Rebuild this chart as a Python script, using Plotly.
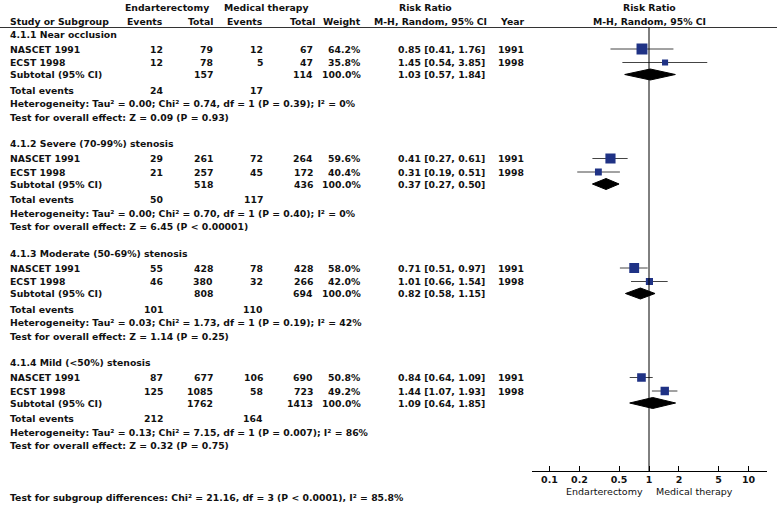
import plotly.graph_objects as go

W, H = 777, 506

# ---------------- data ----------------
subgroups = ["4.1.1 Near occlusion", "4.1.2 Severe (70-99%) stenosis",
             "4.1.3 Moderate (50-69%) stenosis", "4.1.4 Mild (<50%) stenosis"]
studies = ["NASCET 1991", "ECST 1998"]
years = [1991, 1998]
e_events = [[12, 12], [29, 21], [55, 46], [87, 125]]
e_total = [[79, 78], [261, 257], [428, 380], [677, 1085]]
m_events = [[12, 5], [72, 45], [78, 32], [106, 58]]
m_total = [[67, 47], [264, 172], [428, 266], [690, 723]]
weights = [[64.2, 35.8], [59.6, 40.4], [58.0, 42.0], [50.8, 49.2]]
rr = [[0.85, 1.45], [0.41, 0.31], [0.71, 1.01], [0.84, 1.44]]
rr_lo = [[0.41, 0.54], [0.27, 0.19], [0.51, 0.66], [0.64, 1.07]]
rr_hi = [[1.76, 3.85], [0.61, 0.51], [0.97, 1.54], [1.09, 1.93]]
sub_rr = [1.03, 0.37, 0.82, 1.09]
sub_lo = [0.57, 0.27, 0.58, 0.64]
sub_hi = [1.84, 0.50, 1.15, 1.85]
sub_e_total = [157, 518, 808, 1762]
sub_m_total = [114, 436, 694, 1413]
tot_e = [24, 50, 101, 212]
tot_m = [17, 117, 110, 164]
tau2 = ["0.00", "0.00", "0.03", "0.13"]
chi2 = ["0.74", "0.70", "1.73", "7.15"]
het_p = ["P = 0.39", "P = 0.40", "P = 0.19", "P = 0.007"]
i2 = ["0%", "0%", "42%", "86%"]
z_val = ["0.09", "6.45", "1.14", "0.32"]
z_p = ["P = 0.93", "P < 0.00001", "P = 0.25", "P = 0.75"]
tick_vals = [0.1, 0.2, 0.5, 1, 2, 5, 10]
tick_text = ["0.1", "0.2", "0.5", "1", "2", "5", "10"]
subgroup_diff = "Test for subgroup differences: Chi² = 21.16, df = 3 (P < 0.0001), I² = 85.8%"

# ---------------- layout helpers ----------------
FONT = "DejaVu Sans"
FS = 9.3
TXT = "#111111"
SQ = "#1f3285"
AXIS_Y = 471          # pixel row of the forest axis line
HEAD_LINE = 27.5
group_top = [34, 143.5, 253, 362.5]
off = dict(head=0, s1=15, s2=28.5, sub=40.5, tot=56, het=69.5, test=83)

anns = []

def px(x):
    return x / W

def text(x, y, s, anchor="left", bold=True, size=FS):
    if bold:
        s = "<b>" + s + "</b>"
    if y <= AXIS_Y:
        anns.append(dict(x=px(x), xref="paper", y=y, yref="y", text=s, showarrow=False,
                         xanchor=anchor, yanchor="middle",
                         font=dict(family=FONT, size=size, color=TXT)))
    else:
        anns.append(dict(x=px(x), xref="paper", y=(H - y) / H, yref="paper", text=s,
                         showarrow=False, xanchor=anchor, yanchor="middle",
                         font=dict(family=FONT, size=size, color=TXT)))

# headers
text(167, 7, "Endarterectomy", "center")
text(266, 7, "Medical therapy", "center")
text(425, 7, "Risk Ratio", "center")
text(649, 7, "Risk Ratio", "center")
text(8, 21, "Study or Subgroup", "left")
text(165, 21, "Events", "right")
text(215, 21, "Total", "right")
text(265, 21, "Events", "right")
text(317, 21, "Total", "right")
text(363, 21, "Weight", "right")
text(430, 21, "M-H, Random, 95% CI", "center")
text(498, 21, "Year", "left")
text(649, 21, "M-H, Random, 95% CI", "center")

fig = go.Figure()

for g in range(4):
    t = group_top[g]
    text(8, t + off["head"], subgroups[g], "left")
    for k in range(2):
        y = t + off["s1" if k == 0 else "s2"]
        text(8, y, studies[k], "left")
        text(165, y, str(e_events[g][k]), "right")
        text(215, y, str(e_total[g][k]), "right")
        text(265, y, str(m_events[g][k]), "right")
        text(315, y, str(m_total[g][k]), "right")
        text(363, y, f"{weights[g][k]:.1f}%", "right")
        text(487, y, f"{rr[g][k]:.2f} [{rr_lo[g][k]:.2f}, {rr_hi[g][k]:.2f}]", "right")
        text(496, y, str(years[k]), "left")
        # CI line
        fig.add_trace(go.Scatter(x=[rr_lo[g][k], rr_hi[g][k]], y=[y, y], mode="lines",
                                 line=dict(color="#444444", width=1), hoverinfo="skip",
                                 showlegend=False))
        fig.add_trace(go.Scatter(x=[rr[g][k]], y=[y], mode="markers",
                                 marker=dict(symbol="square", size=weights[g][k] * 0.17,
                                             color=SQ, line=dict(width=0)),
                                 showlegend=False))
    ys = t + off["sub"]
    text(8, ys, "Subtotal (95% CI)", "left")
    text(215, ys, str(sub_e_total[g]), "right")
    text(315, ys, str(sub_m_total[g]), "right")
    text(363, ys, "100.0%", "right")
    text(487, ys, f"{sub_rr[g]:.2f} [{sub_lo[g]:.2f}, {sub_hi[g]:.2f}]", "right")
    # diamond
    hh = 5.5
    fig.add_trace(go.Scatter(x=[sub_lo[g], sub_rr[g], sub_hi[g], sub_rr[g], sub_lo[g]],
                             y=[ys, ys - hh, ys, ys + hh, ys], mode="lines",
                             fill="toself", fillcolor="black",
                             line=dict(color="black", width=1), showlegend=False))
    yt = t + off["tot"]
    text(8, yt, "Total events", "left")
    text(165, yt, str(tot_e[g]), "right")
    text(265, yt, str(tot_m[g]), "right")
    text(8, t + off["het"],
         f"Heterogeneity: Tau² = {tau2[g]}; Chi² = {chi2[g]}, df = 1 ({het_p[g]}); I² = {i2[g]}",
         "left")
    text(8, t + off["test"], f"Test for overall effect: Z = {z_val[g]} ({z_p[g]})", "left")

text(8, 497, subgroup_diff, "left")
text(645, 491, "Endarterectomy", "right", bold=False, size=9.5)
text(654, 491, "Medical therapy", "left", bold=False, size=9.5)

x_lo, x_hi = 531.5, 767
x_one = 649
dec = 99.5
fig.update_layout(
    width=W, height=H, margin=dict(l=0, r=0, t=0, b=0),
    paper_bgcolor="white", plot_bgcolor="white",
    showlegend=False, annotations=anns, hovermode=False,
    xaxis=dict(type="log", domain=[x_lo / W, x_hi / W],
               range=[(x_lo - x_one) / dec, (x_hi - x_one) / dec],
               showgrid=False, zeroline=False, showline=True, linecolor="black", linewidth=1,
               ticks="inside", ticklen=5, tickcolor="black", tickvals=tick_vals,
               ticktext=["<b>" + s + "</b>" for s in tick_text],
               tickfont=dict(family=FONT, size=9.5, color=TXT), fixedrange=True),
    yaxis=dict(domain=[(H - AXIS_Y) / H, 1], range=[AXIS_Y, 0], visible=False,
               showgrid=False, zeroline=False, fixedrange=True),
    shapes=[
        dict(type="line", xref="paper", x0=0, x1=1, yref="y", y0=HEAD_LINE, y1=HEAD_LINE,
             line=dict(color="#333333", width=1)),
        dict(type="line", xref="x", x0=1, x1=1, yref="y", y0=HEAD_LINE, y1=AXIS_Y,
             line=dict(color="black", width=1)),
    ],
)

fig.write_html("out.html", config={"displayModeBar": False, "staticPlot": True},
               post_script="document.body.style.margin='0px';document.body.style.padding='0px';")
